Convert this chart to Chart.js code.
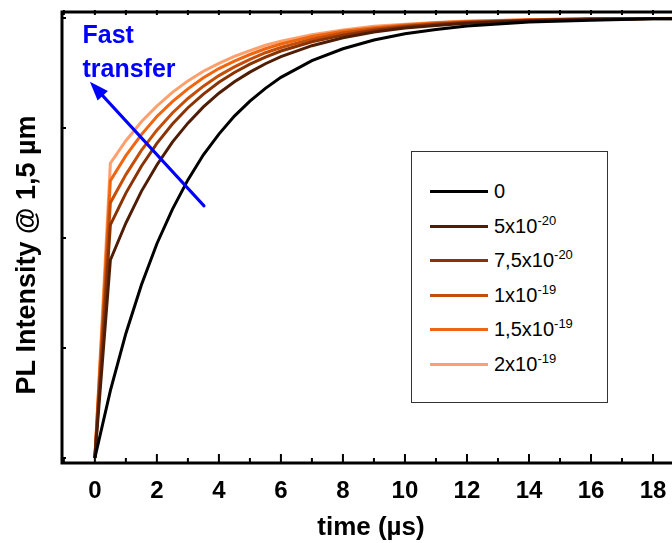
<!DOCTYPE html>
<html>
<head>
<meta charset="utf-8">
<script src="https://cdn.jsdelivr.net/npm/chart.js@4.4.0/dist/chart.umd.min.js"></script>
<style>
  html, body { margin: 0; padding: 0; background: #fff; overflow: hidden; }
  #wrap { position: relative; width: 690px; height: 543px; }
  #legend {
    position: absolute; left: 411px; top: 151px; width: 197px; height: 252px;
    border: 1px solid #333; box-sizing: border-box; background: #fff;
    font-family: "Liberation Sans", Arial, sans-serif; font-size: 20px; color: #000;
  }
  .row { position: absolute; left: 18px; height: 0; }
  .row .swatch { position: absolute; left: 0; top: -1px; width: 58px; height: 3px; }
  .row .lbl { position: absolute; left: 64px; top: -11px; line-height: 22px; white-space: nowrap; }
  .row sup { font-size: 13px; vertical-align: 8px; line-height: 0; }
</style>
</head>
<body>
<div id="wrap">
  <canvas id="chart" width="690" height="543"></canvas>
  <div id="legend"></div>
</div>
<script>
// time axis (µs), shared by every curve
const timeUs = [0, 0.5, 1, 1.5, 2, 2.5, 3, 3.5, 4, 4.5, 5, 5.5, 6, 7, 8, 9, 10, 11, 12, 14, 16, 18, 20];

// PL intensity @ 1.5 µm, normalised
const pl0     = [0, 0.153, 0.283, 0.393, 0.487, 0.565, 0.632, 0.689, 0.736, 0.777, 0.811, 0.840, 0.865, 0.903, 0.930, 0.950, 0.964, 0.974, 0.982, 0.991, 0.995, 0.998, 0.999];
const pl5e20  = [0, 0.450, 0.534, 0.606, 0.666, 0.718, 0.761, 0.798, 0.829, 0.855, 0.877, 0.896, 0.912, 0.937, 0.955, 0.968, 0.977, 0.983, 0.988, 0.994, 0.997, 0.998, 0.999];
const pl75e20 = [0, 0.530, 0.602, 0.663, 0.715, 0.759, 0.796, 0.827, 0.854, 0.876, 0.895, 0.911, 0.925, 0.946, 0.961, 0.972, 0.980, 0.986, 0.990, 0.995, 0.997, 0.999, 0.999];
const pl1e19  = [0, 0.580, 0.644, 0.699, 0.745, 0.784, 0.817, 0.845, 0.869, 0.889, 0.906, 0.921, 0.933, 0.952, 0.966, 0.975, 0.982, 0.987, 0.991, 0.995, 0.998, 0.999, 0.999];
const pl15e19 = [0, 0.630, 0.687, 0.735, 0.776, 0.810, 0.839, 0.864, 0.885, 0.902, 0.917, 0.930, 0.941, 0.958, 0.970, 0.978, 0.984, 0.989, 0.992, 0.996, 0.998, 0.999, 0.999];
const pl2e19  = [0, 0.670, 0.721, 0.764, 0.800, 0.831, 0.857, 0.879, 0.897, 0.913, 0.926, 0.938, 0.947, 0.962, 0.973, 0.981, 0.986, 0.990, 0.993, 0.996, 0.998, 0.999, 1.000];

const series = [pl0, pl5e20, pl75e20, pl1e19, pl15e19, pl2e19];
const labelMantissa = ["0", "5x10", "7,5x10", "1x10", "1,5x10", "2x10"];
const labelExponent = ["", "-20", "-20", "-19", "-19", "-19"];
const colors = ["#000000", "#4f1d05", "#8a3300", "#c44d08", "#ef6510", "#ffa06c"];

const xTickValues = [0, 2, 4, 6, 8, 10, 12, 14, 16, 18];
const yTickValues = [0, 0.25, 0.5, 0.75, 1];

const FONT = '"Liberation Sans", Arial, sans-serif';

const datasets = series.map((vals, i) => ({
  label: labelMantissa[i] + labelExponent[i],
  data: timeUs.map((t, k) => ({ x: t, y: vals[k] })),
  borderColor: colors[i],
  borderWidth: 3,
  pointRadius: 0,
  tension: 0,
  fill: false
}));

// frame, inward ticks, arrow, annotation and y title
const decorations = {
  id: 'decorations',
  afterDraw(chart) {
    const { ctx, chartArea: a, scales: { x, y } } = chart;
    ctx.save();

    // arrow "fast transfer"
    const x0 = x.getPixelForValue(3.52), y0 = y.getPixelForValue(0.573);
    const x1 = x.getPixelForValue(-0.16), y1 = y.getPixelForValue(0.855);
    const ang = Math.atan2(y1 - y0, x1 - x0);
    ctx.strokeStyle = '#0000ff';
    ctx.fillStyle = '#0000ff';
    ctx.lineWidth = 3;
    ctx.lineCap = 'round';
    ctx.beginPath();
    ctx.moveTo(x0, y0);
    ctx.lineTo(x1 - 12 * Math.cos(ang), y1 - 12 * Math.sin(ang));
    ctx.stroke();
    ctx.beginPath();
    ctx.moveTo(x1, y1);
    ctx.lineTo(x1 - 19 * Math.cos(ang) + 7 * Math.sin(ang), y1 - 19 * Math.sin(ang) - 7 * Math.cos(ang));
    ctx.lineTo(x1 - 19 * Math.cos(ang) - 7 * Math.sin(ang), y1 - 19 * Math.sin(ang) + 7 * Math.cos(ang));
    ctx.closePath();
    ctx.fill();

    ctx.font = 'bold 25px ' + FONT;
    ctx.textAlign = 'left';
    ctx.textBaseline = 'alphabetic';
    ctx.fillText('Fast', x.getPixelForValue(-0.4), y.getPixelForValue(0.943));
    ctx.fillText('transfer', x.getPixelForValue(-0.4), y.getPixelForValue(0.866));

    // frame
    ctx.strokeStyle = '#000';
    ctx.lineCap = 'butt';
    ctx.lineWidth = 3;
    ctx.beginPath();
    ctx.moveTo(a.right, a.top);
    ctx.lineTo(a.left, a.top);
    ctx.lineTo(a.left, a.bottom);
    ctx.lineTo(a.right, a.bottom);
    ctx.stroke();

    // x ticks (bottom: major even, minor odd; top: small)
    ctx.lineWidth = 2;
    for (let v = -1; v <= 18; v++) {
      const px = x.getPixelForValue(v);
      const len = v % 2 === 0 ? 9 : 5;
      ctx.beginPath();
      ctx.moveTo(px, a.bottom);
      ctx.lineTo(px, a.bottom - len);
      ctx.moveTo(px, a.top - 2);
      ctx.lineTo(px, a.top + 3);
      ctx.stroke();
    }
    // y ticks
    yTickValues.forEach(v => {
      const py = y.getPixelForValue(v);
      ctx.beginPath();
      ctx.moveTo(a.left, py);
      ctx.lineTo(a.left + 4, py);
      ctx.stroke();
    });

    // y title
    ctx.translate(28, 255);
    ctx.rotate(-Math.PI / 2);
    ctx.fillStyle = '#000';
    ctx.font = 'bold 27px ' + FONT;
    ctx.textAlign = 'center';
    ctx.textBaseline = 'middle';
    ctx.fillText('PL Intensity @ 1,5 µm', 0, 0);
    ctx.restore();
  }
};

new Chart(document.getElementById('chart'), {
  type: 'line',
  data: { datasets },
  options: {
    responsive: false,
    animation: false,
    layout: { padding: { top: 12, right: 10, left: 0, bottom: 0 } },
    plugins: { legend: { display: false }, tooltip: { enabled: false } },
    scales: {
      x: {
        type: 'linear',
        min: -1.06,
        max: 18.87,
        grid: { display: false, drawTicks: false },
        border: { display: false },
        afterFit: s => { s.height = 80; },
        afterBuildTicks: s => { s.ticks = xTickValues.map(v => ({ value: v })); },
        ticks: { color: '#000', padding: 14, font: { family: FONT, size: 24, weight: 'bold' } },
        title: { display: true, text: 'time (µs)', color: '#000', padding: 0, font: { family: FONT, size: 26, weight: 'bold' } }
      },
      y: {
        min: -0.0114,
        max: 1.0136,
        grid: { display: false, drawTicks: false },
        border: { display: false },
        ticks: { display: false },
        afterFit: s => { s.width = 62; }
      }
    }
  },
  plugins: [decorations]
});

// legend with superscript exponents
const legend = document.getElementById('legend');
const rowTops = [39, 74, 108, 143, 177, 212];
series.forEach((_, i) => {
  const row = document.createElement('div');
  row.className = 'row';
  row.style.top = rowTops[i] + 'px';
  row.innerHTML = '<div class="swatch" style="background:' + colors[i] + '"></div>' +
    '<div class="lbl">' + labelMantissa[i] + (labelExponent[i] ? '<sup>' + labelExponent[i] + '</sup>' : '') + '</div>';
  legend.appendChild(row);
});
</script>
</body>
</html>
